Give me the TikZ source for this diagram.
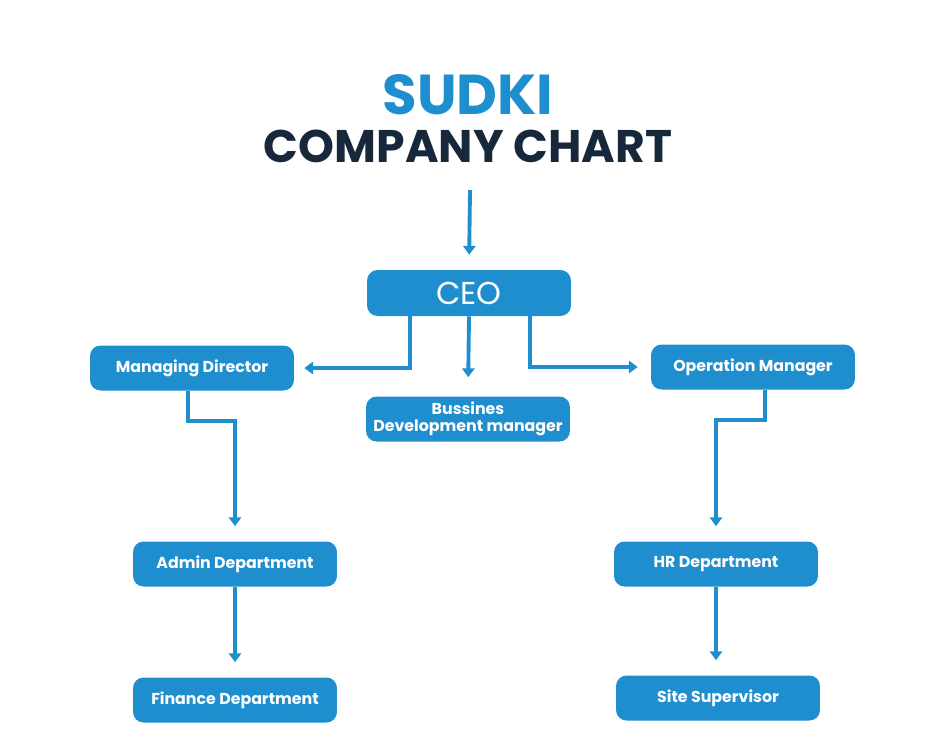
\documentclass[tikz,border=0pt]{standalone}
\usepackage{fontspec}
\setmainfont{Poppins}
\usetikzlibrary{arrows.meta,calc}
\definecolor{sudkiblue}{HTML}{1F8ECF}
\definecolor{sudkinavy}{HTML}{17283A}
\tikzset{
  box/.style={fill=sudkiblue,rounded corners=6pt,minimum width=4.08cm,minimum height=0.9cm,
    text=white,font=\fontsize{9}{10}\selectfont\bfseries,align=center,inner sep=1pt},
  conn/.style={draw=sudkiblue,line width=2.2pt,-{Triangle[length=5pt,width=7pt]},shorten >=0.3cm}
}
\begin{document}
\begin{tikzpicture}[x=0.02cm,y=-0.02cm]
  \useasboundingbox (0,0) rectangle (935,748);
  % titles
  \node[text=sudkiblue,font=\fontsize{32}{34}\selectfont\bfseries] (title) at (468,95) {SUDKI};
  \node[text=sudkinavy,font=\fontsize{26}{28}\selectfont\bfseries] (sub) at (468,146) {COMPANY CHART};
  \coordinate (top) at (470,190);

  % boxes
  \node[box,font=\fontsize{18}{20}\selectfont,minimum height=0.92cm] (ceo) at (469,293) {CEO};
  \node[box] (md) at (192,368) {Managing Director};
  \node[box] (om) at (753,367) {Operation Manager};
  \node[box] (bdm) at (468,419) {Bussines\\Development manager};
  \node[box] (admin) at (235,564) {Admin Department};
  \node[box] (hr) at (716,564) {HR Department};
  \node[box] (fin) at (235,700) {Finance Department};
  \node[box] (site) at (718,698) {Site Supervisor};

  % connectors
  \draw[conn] (top) -- (ceo.north);
  \draw[conn,shorten >=0.2cm] ($(ceo.south)+(-59,0)$) |- (md.east);
  \draw[conn,shorten >=0.38cm] (ceo.south) -- (bdm.north);
  \draw[conn,shorten >=0.26cm] ($(ceo.south)+(61,0)$) |- (om.west);
  \draw[conn] ($(md.south)+(-4,0)$) -- ++(0,30) -| (admin.north);
  \draw[conn] ($(om.south)+(12,0)$) -- ++(0,30) -| (hr.north);
  \draw[conn] (admin.south) -- (fin.north);
  \draw[conn] (hr.south) -- ($(site.north)+(-2,0)$);
\end{tikzpicture}
\end{document}
